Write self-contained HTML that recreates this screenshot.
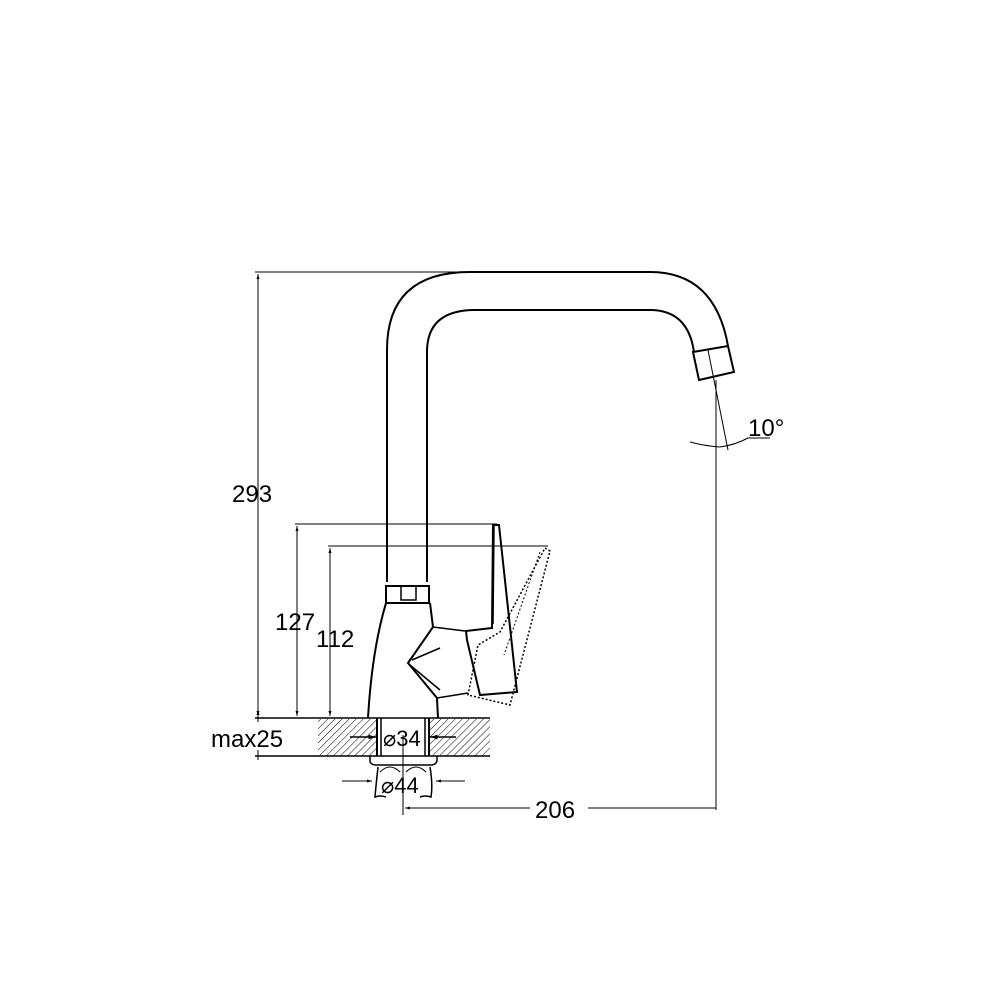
<!DOCTYPE html>
<html><head><style>html,body{margin:0;padding:0;background:#fff}svg{display:block}text{font-family:"Liberation Sans",sans-serif;fill:#000}</style></head>
<body>
<svg width="1000" height="1000" viewBox="0 0 1000 1000" xmlns="http://www.w3.org/2000/svg">
<defs>
<pattern id="h" patternUnits="userSpaceOnUse" width="5" height="5" patternTransform="rotate(45)">
<line x1="0" y1="0" x2="0" y2="5" stroke="#000" stroke-width="1"/>
</pattern>
<marker id="a" viewBox="0 0 10 10" refX="10" refY="5" markerWidth="8" markerHeight="5" orient="auto-start-reverse"><path d="M0,2 L10,5 L0,8z" fill="#000"/></marker>
</defs>
<g fill="none" stroke="#000" stroke-width="1">
<line x1="255" y1="272" x2="470" y2="272"/>
<line x1="295" y1="524" x2="497" y2="524"/>
<line x1="328" y1="546" x2="548" y2="546"/>
<line x1="255" y1="756" x2="490" y2="756" stroke-width="1.5"/>
<line x1="255" y1="718" x2="490" y2="718" stroke-width="1.5"/>
<line x1="258" y1="274" x2="258" y2="716" marker-start="url(#a)" marker-end="url(#a)"/>
<line x1="297" y1="526" x2="297" y2="716" marker-start="url(#a)" marker-end="url(#a)"/>
<line x1="330" y1="548" x2="330" y2="716" marker-start="url(#a)" marker-end="url(#a)"/>
<line x1="258" y1="722" x2="258" y2="710" marker-end="url(#a)"/>
<line x1="258" y1="750" x2="258" y2="760"/>
<line x1="716" y1="380" x2="716" y2="810"/>
<line x1="405" y1="808" x2="716" y2="808" marker-start="url(#a)"/>
<line x1="403" y1="735" x2="403" y2="815"/>
<line x1="708" y1="350" x2="728" y2="450"/>
<path d="M690,442 Q705,446 720,447 Q735,445 748,438 L770,438"/>
<rect x="318" y="719" width="59" height="37" fill="url(#h)" stroke="none"/>
<rect x="429" y="719" width="61" height="37" fill="url(#h)" stroke="none"/>
<line x1="377" y1="718" x2="377" y2="756" stroke-width="2"/>
<line x1="381" y1="718" x2="381" y2="756" stroke-width="1.5"/>
<line x1="425" y1="718" x2="425" y2="756" stroke-width="1.5"/>
<line x1="429" y1="718" x2="429" y2="756" stroke-width="2"/>
<line x1="350" y1="737" x2="376" y2="737" marker-end="url(#a)" stroke-width="1.5"/>
<line x1="456" y1="737" x2="430" y2="737" marker-end="url(#a)" stroke-width="1.5"/>
<line x1="342" y1="781" x2="372" y2="781" marker-end="url(#a)"/>
<line x1="465" y1="781" x2="436" y2="781" marker-end="url(#a)"/>
<path d="M370,756 L370,762 Q372,765 376,765 L432,765 Q437,764 437,760 L437,756" stroke-width="1.5"/>
<path d="M378,767 Q376,785 375,797 Q380,795 386,797 M430,767 Q433,785 431,797 Q425,795 420,797" stroke-width="1.5"/>
<path d="M380,772 Q390,762 400,772 M406,772 Q416,762 426,772"/>
<path d="M387,582 L387,350 Q387,272 470,272 L650,272 Q715,272 728,346" stroke-width="2"/>
<path d="M427,582 L427,352 Q427,310 475,310 L650,310 Q688,310 694,352" stroke-width="2"/>
<path d="M693,352 L728,346 L734,372 L699,380 Z" stroke-width="2"/>
<rect x="386" y="586" width="43" height="17" stroke-width="2"/>
<rect x="401" y="586" width="15" height="14" stroke-width="1.5"/>
<path d="M386,603 Q372,650 368,718" stroke-width="2"/>
<path d="M430,603 L433,627 L408,663 L437,698 L438,718" stroke-width="2"/>
<path d="M433,627 L465,631 M437,698 L468,693 M412,660 L440,648 M410,665 L440,690" stroke-width="1.5"/>
<path d="M493,525 L499,525 L510,627 L517,692 L480,695 L467,640 L466,631 L492,628 Z" stroke-width="2"/>
<path d="M494,526 L493,624" stroke-width="1.5"/>
<path d="M545,548 L550,551 L510,705 L468,695 L478,645 L500,632 Z" stroke-dasharray="2,2" stroke-width="1.5"/>
<path d="M540,552 L504,655" stroke-dasharray="2,2"/>
</g>
<rect x="530" y="796" width="58" height="24" fill="#fff"/>
<text x="232" y="502" font-size="24">293</text>
<text x="275" y="630" font-size="24">127</text>
<text x="316" y="647" font-size="24">112</text>
<text x="211" y="747" font-size="24">max25</text>
<text x="383" y="746" font-size="22">⌀34</text>
<text x="381" y="793" font-size="22">⌀44</text>
<text x="535" y="818" font-size="24">206</text>
<text x="748" y="436" font-size="24">10°</text>
</svg>
</body></html>
